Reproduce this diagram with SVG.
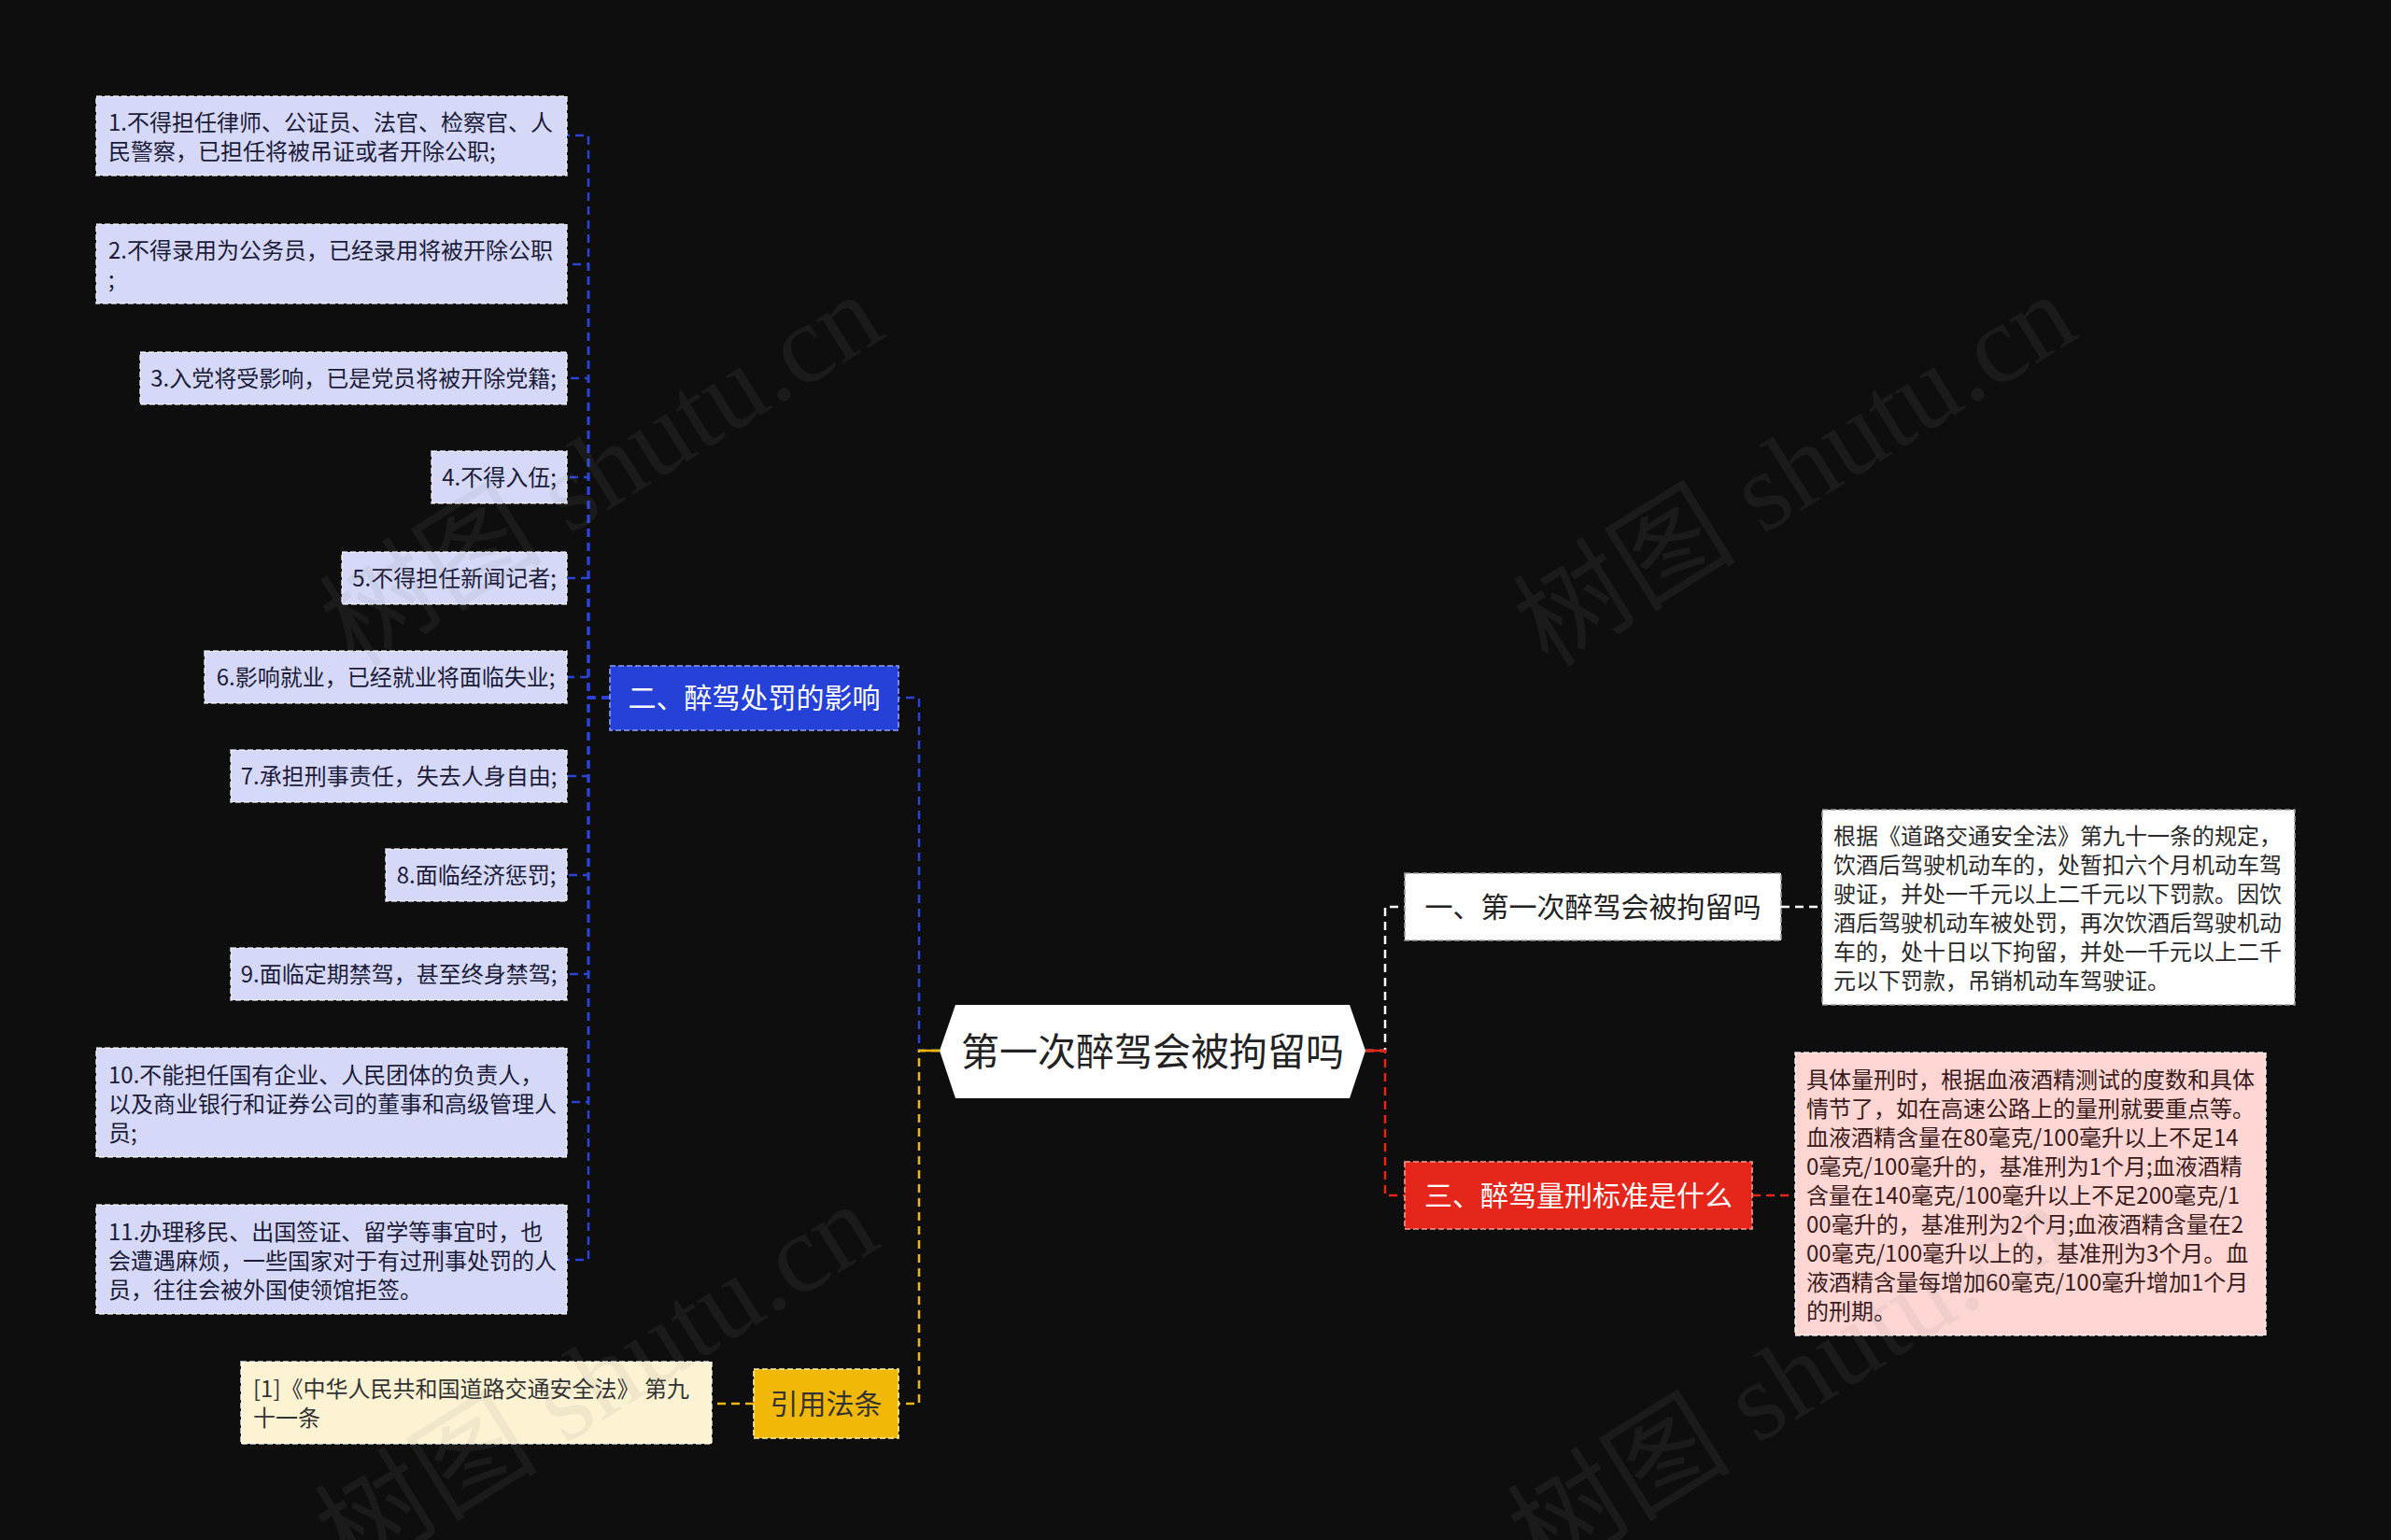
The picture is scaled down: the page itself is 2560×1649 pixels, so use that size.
<svg xmlns="http://www.w3.org/2000/svg" width="2560" height="1649" viewBox="0 0 2560 1649">
<style>
.t{font-family:"Noto Sans CJK SC","Noto Sans",sans-serif}
.leaf rect{fill:#d5d8f7;stroke:#ffffff;stroke-opacity:.75;stroke-width:1.6;stroke-dasharray:6 3}
.leaf text{font-size:24px;fill:#1c1c3a}
.cit rect{fill:#fdf3d3;stroke:#ffffff;stroke-opacity:.8;stroke-width:1.6;stroke-dasharray:6 3}
.cit text{font-size:24px;fill:#333}
.wbox rect{fill:#ffffff;stroke:#999;stroke-width:1.6;stroke-dasharray:6 3}
.wbox text{font-size:24px;fill:#2a2a2a}
.pbox rect{fill:#fdd6d3;stroke:#ffffff;stroke-opacity:.8;stroke-width:1.6;stroke-dasharray:6 3}
.pbox text{font-size:24px;fill:#3a1a1a}
.br text{font-size:30px;text-anchor:middle}
.br rect{stroke-width:1.6;stroke-dasharray:6 3}
.c{fill:none;stroke-width:2.5;stroke-dasharray:9 6}
.wm{font-family:"Liberation Serif","Noto Sans CJK SC",serif;font-size:120px;fill:#8a8a8a;fill-opacity:.11}
</style>
<rect width="2560" height="1649" fill="#0e0e0e"/>

<g id="connectors">
  <path class="c" stroke="#2b44d6" d="M1006 1125 H984 V747 H962"/>
  <path class="c" stroke="#f2b807" d="M1006 1125 H984 V1503 H962"/>
  <path class="c" stroke="#ffffff" d="M1462 1125 H1483 V971 H1504"/>
  <path class="c" stroke="#e6261a" d="M1462 1125 H1483 V1280 H1504"/>
  <path d="M1006 1125 H986" stroke="#f2b807" stroke-width="2.5"/>
  <path d="M1462 1125 H1482" stroke="#e6261a" stroke-width="2.5"/>
  <path class="c" stroke="#2b44d6" d="M653 747 H630 V145 H607"/>
  <path class="c" stroke="#2b44d6" d="M653 747 H630 V283 H607"/>
  <path class="c" stroke="#2b44d6" d="M653 747 H630 V405 H607"/>
  <path class="c" stroke="#2b44d6" d="M653 747 H630 V511 H607"/>
  <path class="c" stroke="#2b44d6" d="M653 747 H630 V619 H607"/>
  <path class="c" stroke="#2b44d6" d="M653 747 H630 V725 H607"/>
  <path class="c" stroke="#2b44d6" d="M653 747 H630 V831 H607"/>
  <path class="c" stroke="#2b44d6" d="M653 747 H630 V937 H607"/>
  <path class="c" stroke="#2b44d6" d="M653 747 H630 V1043 H607"/>
  <path class="c" stroke="#2b44d6" d="M653 747 H630 V1180 H607"/>
  <path class="c" stroke="#2b44d6" d="M653 747 H630 V1349 H607"/>
  <path class="c" stroke="#f2b807" d="M807 1503 H762"/>
  <path class="c" stroke="#ffffff" d="M1907 971 H1951"/>
  <path class="c" stroke="#e6261a" d="M1876 1280 H1922"/>
</g>

<g id="root" class="t">
  <polygon points="1006,1125 1023,1076 1445,1076 1462,1125 1445,1176 1023,1176" fill="#ffffff"/>
  <text x="1234" y="1141" font-size="41" fill="#222" text-anchor="middle">第一次醉驾会被拘留吗</text>
</g>

<g id="b2" class="t br">
  <rect x="653" y="713" width="309" height="69" fill="#2541d8" stroke="#8ea0ff"/>
  <text x="807.5" y="758" fill="#ffffff">二、醉驾处罚的影响</text>
</g>
<g id="bcite" class="t br">
  <rect x="807" y="1466" width="155" height="74" fill="#f2b807" stroke="#fff3b0"/>
  <text x="884.5" y="1514" fill="#333">引用法条</text>
</g>
<g id="b1" class="t br">
  <rect x="1504" y="935" width="403" height="72" fill="#ffffff" stroke="#999"/>
  <text x="1705.5" y="982" fill="#222">一、第一次醉驾会被拘留吗</text>
</g>
<g id="b3" class="t br">
  <rect x="1504" y="1244" width="372" height="72" fill="#e6261a" stroke="#ff9c94"/>
  <text x="1690" y="1291" fill="#ffffff">三、醉驾量刑标准是什么</text>
</g>

<g id="leaf1" class="t leaf">
  <rect x="103" y="103" width="504" height="85"/>
  <text x="116" y="140">1.不得担任律师、公证员、法官、检察官、人</text>
  <text x="116" y="171">民警察，已担任将被吊证或者开除公职;</text>
</g>
<g id="leaf2" class="t leaf">
  <rect x="103" y="240" width="504" height="85"/>
  <text x="116" y="277">2.不得录用为公务员，已经录用将被开除公职</text>
  <text x="116" y="308">;</text>
</g>
<g id="leaf3" class="t leaf">
  <rect x="150" y="377" width="457" height="56"/>
  <text x="378.5" y="414" text-anchor="middle">3.入党将受影响，已是党员将被开除党籍;</text>
</g>
<g id="leaf4" class="t leaf">
  <rect x="462" y="483" width="145" height="56"/>
  <text x="534.5" y="520" text-anchor="middle">4.不得入伍;</text>
</g>
<g id="leaf5" class="t leaf">
  <rect x="366" y="591" width="241" height="56"/>
  <text x="486.5" y="628" text-anchor="middle">5.不得担任新闻记者;</text>
</g>
<g id="leaf6" class="t leaf">
  <rect x="219" y="697" width="388" height="56"/>
  <text x="413" y="734" text-anchor="middle">6.影响就业，已经就业将面临失业;</text>
</g>
<g id="leaf7" class="t leaf">
  <rect x="247" y="803" width="360" height="56"/>
  <text x="427" y="840" text-anchor="middle">7.承担刑事责任，失去人身自由;</text>
</g>
<g id="leaf8" class="t leaf">
  <rect x="413" y="909" width="194" height="56"/>
  <text x="510" y="946" text-anchor="middle">8.面临经济惩罚;</text>
</g>
<g id="leaf9" class="t leaf">
  <rect x="247" y="1015" width="360" height="56"/>
  <text x="427" y="1052" text-anchor="middle">9.面临定期禁驾，甚至终身禁驾;</text>
</g>
<g id="leaf10" class="t leaf">
  <rect x="103" y="1122" width="504" height="117"/>
  <text x="116" y="1160">10.不能担任国有企业、人民团体的负责人，</text>
  <text x="116" y="1191">以及商业银行和证券公司的董事和高级管理人</text>
  <text x="116" y="1222">员;</text>
</g>
<g id="leaf11" class="t leaf">
  <rect x="103" y="1290" width="504" height="117"/>
  <text x="116" y="1328">11.办理移民、出国签证、留学等事宜时，也</text>
  <text x="116" y="1359">会遭遇麻烦，一些国家对于有过刑事处罚的人</text>
  <text x="116" y="1390">员，往往会被外国使领馆拒签。</text>
</g>

<g id="cite1" class="t cit">
  <rect x="258" y="1458" width="504" height="88"/>
  <text x="271" y="1496">[1]《中华人民共和国道路交通安全法》 第九</text>
  <text x="271" y="1527">十一条</text>
</g>

<g id="detail1" class="t wbox">
  <rect x="1951" y="867" width="506" height="209"/>
  <text x="1963" y="904">根据《道路交通安全法》第九十一条的规定，</text>
  <text x="1963" y="935">饮酒后驾驶机动车的，处暂扣六个月机动车驾</text>
  <text x="1963" y="966">驶证，并处一千元以上二千元以下罚款。因饮</text>
  <text x="1963" y="997">酒后驾驶机动车被处罚，再次饮酒后驾驶机动</text>
  <text x="1963" y="1028">车的，处十日以下拘留，并处一千元以上二千</text>
  <text x="1963" y="1059">元以下罚款，吊销机动车驾驶证。</text>
</g>

<g id="detail3" class="t pbox">
  <rect x="1922" y="1127" width="504" height="303"/>
  <text x="1934" y="1165">具体量刑时，根据血液酒精测试的度数和具体</text>
  <text x="1934" y="1196">情节了，如在高速公路上的量刑就要重点等。</text>
  <text x="1934" y="1227">血液酒精含量在80毫克/100毫升以上不足14</text>
  <text x="1934" y="1258">0毫克/100毫升的，基准刑为1个月;血液酒精</text>
  <text x="1934" y="1289">含量在140毫克/100毫升以上不足200毫克/1</text>
  <text x="1934" y="1320">00毫升的，基准刑为2个月;血液酒精含量在2</text>
  <text x="1934" y="1351">00毫克/100毫升以上的，基准刑为3个月。血</text>
  <text x="1934" y="1382">液酒精含量每增加60毫克/100毫升增加1个月</text>
  <text x="1934" y="1413">的刑期。</text>
</g>

<g id="watermark">
  <text class="wm" transform="translate(380,716) rotate(-32)">树图 shutu.cn</text>
  <text class="wm" transform="translate(1658,716) rotate(-32)">树图 shutu.cn</text>
  <text class="wm" transform="translate(375,1690) rotate(-32)">树图 shutu.cn</text>
  <text class="wm" transform="translate(1652,1690) rotate(-32)">树图 shutu.cn</text>
</g>
</svg>
